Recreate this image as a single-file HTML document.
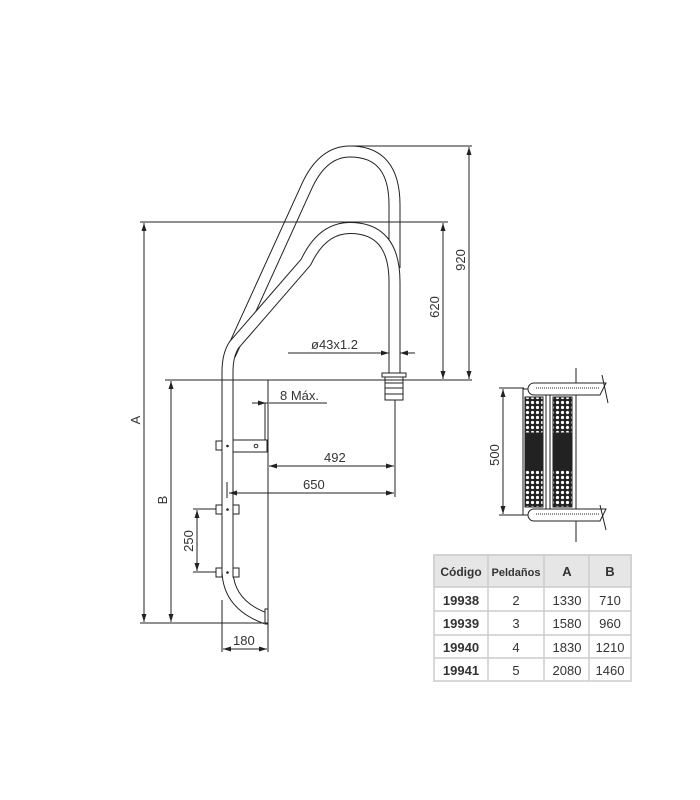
<!DOCTYPE html>
<html><head><meta charset="utf-8"><style>
html,body{margin:0;padding:0;background:#fff}
svg{display:block}
text{font-family:"Liberation Sans",sans-serif;fill:#333;font-size:13px}
</style></head><body>
<svg width="700" height="800" viewBox="0 0 700 800" xmlns="http://www.w3.org/2000/svg">
<defs>
<marker id="ar" markerWidth="8" markerHeight="6" refX="8" refY="3" orient="auto-start-reverse" markerUnits="userSpaceOnUse"><path d="M0,0.5 L8,3 L0,5.5 Z" fill="#222"/></marker>
<pattern id="lat" width="5" height="5" patternUnits="userSpaceOnUse"><rect width="5" height="5" fill="#222"/><circle cx="2.5" cy="2.5" r="1.6" fill="#fff"/></pattern>
</defs>
<g fill="none" stroke="#222" stroke-width="1">
<!-- upper rail -->
<path d="M394.5,268 L394.5,205 Q394.5,151.5 350,151.5 Q322,151.5 306,188 L230,355" stroke="#222" stroke-width="12"/>
<path d="M394.5,268 L394.5,205 Q394.5,151.5 350,151.5 Q322,151.5 306,188 L230,355" stroke="#fff" stroke-width="10"/>
<!-- lower rail -->
<path d="M394.5,378 L394.5,282 Q394.5,228 350,228 Q322,228 306,262 L234,345 Q227.5,355 227.5,372 L227.5,572 Q229,605 266,618.5" stroke="#222" stroke-width="12"/>
<path d="M394.5,378 L394.5,282 Q394.5,228 350,228 Q322,228 306,262 L234,345 Q227.5,355 227.5,372 L227.5,572 Q229,605 266,618.5" stroke="#fff" stroke-width="10"/>
<rect x="265" y="609" width="3" height="15" fill="#fff"/>
<!-- anchor -->
<rect x="382" y="373" width="24" height="4" fill="#fff"/>
<rect x="385" y="377" width="18" height="23" fill="#fff"/>
<line x1="385" y1="383" x2="403" y2="383"/><line x1="385" y1="388" x2="403" y2="388"/><line x1="385" y1="394" x2="403" y2="394"/>
<!-- dimension lines -->
<line x1="140" y1="222" x2="448" y2="222"/>
<line x1="165" y1="380" x2="472" y2="380"/>
<line x1="350" y1="146" x2="472" y2="146"/>
<line x1="443" y1="223" x2="443" y2="379" marker-start="url(#ar)" marker-end="url(#ar)"/>
<line x1="469" y1="147" x2="469" y2="379" marker-start="url(#ar)" marker-end="url(#ar)"/>
<line x1="144" y1="223" x2="144" y2="622" marker-start="url(#ar)" marker-end="url(#ar)"/>
<line x1="171" y1="381" x2="171" y2="622" marker-start="url(#ar)" marker-end="url(#ar)"/>
<line x1="140" y1="623" x2="268" y2="623"/>
<line x1="288" y1="353" x2="389" y2="353" marker-end="url(#ar)"/>
<line x1="415" y1="353" x2="400" y2="353" marker-end="url(#ar)"/>
<line x1="252" y1="403" x2="266" y2="403" marker-end="url(#ar)"/>
<line x1="327" y1="403" x2="269" y2="403"/>
<line x1="268" y1="380" x2="268" y2="652"/>
<line x1="222" y1="600" x2="222" y2="652"/>
<line x1="269" y1="466" x2="394" y2="466" marker-start="url(#ar)" marker-end="url(#ar)"/>
<line x1="395" y1="400" x2="395" y2="497"/>
<line x1="229" y1="493" x2="394" y2="493" marker-start="url(#ar)" marker-end="url(#ar)"/>
<line x1="227" y1="482" x2="227" y2="498"/>
<line x1="197" y1="510" x2="197" y2="571" marker-start="url(#ar)" marker-end="url(#ar)"/>
<line x1="193" y1="509" x2="219" y2="509"/>
<line x1="193" y1="572" x2="219" y2="572"/>
<line x1="223" y1="649" x2="267" y2="649" marker-start="url(#ar)" marker-end="url(#ar)"/>
<!-- bracket -->
<rect x="265" y="403" width="3" height="49" fill="#fff"/>
<rect x="233" y="440" width="34" height="12" fill="#fff"/>
<circle cx="256" cy="446" r="1.8"/>
<rect x="216" y="441" width="6" height="9" fill="#fff"/>
<rect x="216" y="505" width="6" height="9" fill="#fff"/><rect x="233" y="505" width="6" height="9" fill="#fff"/>
<rect x="216" y="568" width="6" height="9" fill="#fff"/><rect x="233" y="568" width="6" height="9" fill="#fff"/>
</g>
<g fill="#222"><circle cx="227.5" cy="446" r="1.3"/><circle cx="227.5" cy="509.5" r="1.3"/><circle cx="227.5" cy="572.5" r="1.3"/></g>
<text x="311" y="349">ø43x1.2</text>
<text x="280" y="400">8 Máx.</text>
<text x="324" y="462">492</text>
<text x="303" y="489">650</text>
<text x="233" y="645">180</text>
<text transform="translate(465,260) rotate(-90)" text-anchor="middle">920</text>
<text transform="translate(439,307) rotate(-90)" text-anchor="middle">620</text>
<text transform="translate(140,420) rotate(-90)" text-anchor="middle">A</text>
<text transform="translate(167,500) rotate(-90)" text-anchor="middle">B</text>
<text transform="translate(193,541) rotate(-90)" text-anchor="middle">250</text>
<text transform="translate(499,455) rotate(-90)" text-anchor="middle">500</text>
<!-- step side view -->
<g stroke="#222" stroke-width="1" fill="none">
<line x1="499" y1="388" x2="524" y2="388"/><line x1="499" y1="515" x2="524" y2="515"/>
<line x1="503" y1="389" x2="503" y2="514" marker-start="url(#ar)" marker-end="url(#ar)"/>
<line x1="576" y1="368" x2="576" y2="395"/><line x1="576" y1="510" x2="576" y2="542"/>
<rect x="523" y="389" width="53" height="126" fill="#fff"/>
<rect x="525" y="397" width="18" height="110" fill="url(#lat)"/>
<rect x="553" y="397" width="19" height="110" fill="url(#lat)"/>
<rect x="526" y="433" width="16" height="37" fill="#222"/>
<rect x="554" y="433" width="17" height="37" fill="#222"/>
<line x1="546" y1="392" x2="546" y2="512"/><line x1="550" y1="392" x2="550" y2="512"/>
<path d="M534,383 L606,383 L600,395 L534,395 A6,6 0 0 1 534,383 Z" fill="#fff"/>
<line x1="536" y1="388" x2="600" y2="388" stroke-dasharray="1,1"/>
<path d="M534,509 L606,509 L600,521 L534,521 A6,6 0 0 1 534,509 Z" fill="#fff"/>
<line x1="536" y1="514" x2="600" y2="514" stroke-dasharray="1,1"/>
<line x1="602" y1="375" x2="608" y2="403"/><line x1="600" y1="505" x2="606" y2="530"/>
</g>
<!-- table -->
<g stroke="#ccc" stroke-width="1.5">
<rect x="434" y="555" width="197" height="126" fill="#fff"/>
<rect x="434" y="555" width="197" height="32" fill="#e6e6e6"/>
<line x1="488" y1="555" x2="488" y2="681"/><line x1="544" y1="555" x2="544" y2="681"/><line x1="589" y1="555" x2="589" y2="681"/>
<line x1="434" y1="611" x2="631" y2="611"/><line x1="434" y1="635" x2="631" y2="635"/><line x1="434" y1="658" x2="631" y2="658"/>
</g>
<g font-size="13" text-anchor="middle">
<text x="461" y="576" font-weight="bold" style="font-size:12px">Código</text>
<text x="516" y="576" font-weight="bold" style="font-size:11px">Peldaños</text>
<text x="567" y="576" font-weight="bold">A</text>
<text x="610" y="576" font-weight="bold">B</text>
<text x="461" y="605" font-weight="bold">19938</text><text x="516" y="605" fill="#555">2</text><text x="567" y="605" fill="#555">1330</text><text x="610" y="605" fill="#555">710</text>
<text x="461" y="628" font-weight="bold">19939</text><text x="516" y="628" fill="#555">3</text><text x="567" y="628" fill="#555">1580</text><text x="610" y="628" fill="#555">960</text>
<text x="461" y="652" font-weight="bold">19940</text><text x="516" y="652" fill="#555">4</text><text x="567" y="652" fill="#555">1830</text><text x="610" y="652" fill="#555">1210</text>
<text x="461" y="675" font-weight="bold">19941</text><text x="516" y="675" fill="#555">5</text><text x="567" y="675" fill="#555">2080</text><text x="610" y="675" fill="#555">1460</text>
</g>
</svg>
</body></html>
